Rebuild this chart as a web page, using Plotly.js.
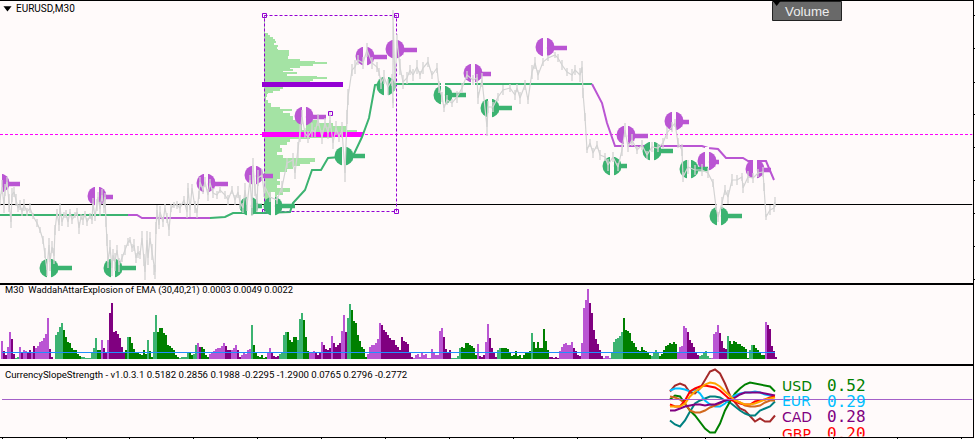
<!DOCTYPE html>
<html>
<head>
<meta charset="utf-8">
<script src="https://cdn.plot.ly/plotly-3.0.1.min.js"></script>
<style>html,body{margin:0;padding:0;background:#FFFAFA;overflow:hidden}</style>
</head>
<body>
<div id="chart" style="width:975px;height:439px"></div>
<script>
// ---------- main window (horizontal unit: chart column, vertical unit: price level)
const priceX = [0,2,4,5,7,9,11,12,14,16,18,20,22,24,27,30,33,37,40,43,45,47,49,50,52,54,55,57,59,60,62,64,66,68,70,72,75,77,79,81,83,85,87,90,92,93,95,97,98,100,102,104,105,106,107,108,110,112,113,115,117,119,122,125,128,130,132,134,136,138,140,142,144,145,147,148,150,152,154,155,156,157,159,160,163,165,167,169,171,174,177,180,184,187,188,190,192,195,197,199,200,203,205,208,210,213,217,220,225,228,232,235,238,240,243,245,247,250,252,253,255,257,258,262,264,265,270,277,282,287,293,295,298,300,302,305,308,312,315,318,322,325,328,330,333,336,339,342,345,347,348,352,355,358,363,367,372,377,379,381,384,388,392,393,393,395,397,400,403,407,410,413,417,420,423,428,432,437,439,442,444,447,452,457,462,467,473,477,478,482,487,488,493,498,503,510,515,517,520,525,528,532,535,538,543,548,555,558,562,567,572,575,580,582,583,585,587,590,593,597,600,605,608,613,618,622,625,628,632,637,642,647,652,658,663,667,672,675,678,682,683,688,695,702,708,713,716,718,722,725,728,732,737,742,743,748,753,758,763,764,766,770,774,775];
const priceY = [200,187,205,190,182,203,222,195,192,200,208,205,212,205,212,208,216,223,230,240,253,270,245,262,247,256,230,213,225,208,222,215,214,222,212,220,215,212,228,217,220,214,222,216,220,203,217,205,197,209,195,208,197,222,240,262,247,268,255,262,250,265,258,250,242,240,248,245,258,252,255,238,260,272,240,258,238,252,270,272,228,210,225,212,222,208,218,230,208,205,205,208,200,212,188,210,188,207,213,195,182,190,182,195,183,193,195,190,195,200,190,200,192,202,208,190,205,180,208,165,190,203,178,175,192,187,197,200,187,163,160,173,150,133,117,133,137,130,132,120,137,123,133,120,143,128,137,130,173,117,97,70,67,60,63,50,63,67,72,83,77,87,80,103,15,83,40,67,82,78,70,75,67,75,68,62,75,68,87,97,108,100,103,97,88,75,80,78,98,80,127,107,107,97,90,88,95,88,98,85,100,72,63,75,62,58,55,58,65,72,75,70,75,67,93,117,150,143,153,145,155,157,165,157,167,150,130,147,140,150,145,155,147,148,143,133,127,123,143,150,177,167,170,170,173,183,207,217,203,190,197,180,180,177,188,177,178,173,172,187,217,210,208,202];
// half height of each bar around the closes above
const priceRange = [6,7,8,6,5,9,6,7,5,6,4,5,4,6,4,5,3,4,3,4,5,6,7,9,6,8,5,4,6,5,4,3,4,5,3,4,3,4,6,3,5,3,4,3,4,5,4,6,5,7,6,5,4,5,6,6,7,8,6,9,5,7,4,5,4,3,4,6,5,6,4,7,6,8,9,7,6,8,5,7,6,5,4,6,5,4,5,6,4,3,4,5,4,6,5,7,4,6,5,4,5,4,5,6,4,5,4,3,4,5,4,5,6,7,5,7,6,5,8,7,6,9,8,6,5,6,5,4,6,5,7,6,8,9,7,5,6,7,5,6,7,5,6,8,6,7,5,8,9,7,8,6,7,5,6,7,6,5,4,6,7,8,6,5,5,7,6,8,7,6,5,6,7,4,6,5,4,5,6,5,4,5,4,6,5,4,5,4,6,7,9,6,5,4,5,4,5,4,6,5,4,7,6,5,4,3,3,4,5,4,6,5,7,6,5,4,3,4,5,4,5,4,6,5,4,6,7,5,6,4,5,4,5,4,5,6,5,4,5,6,5,7,5,6,5,4,3,5,6,5,7,6,5,4,5,6,5,4,5,4,3,5,4,5,5,6,6,6,6,6,6];

const trendGreenX = [0,128,null,210,225,233,262,290,293,305,312,321,328,353,362,369,375,380,592];
const trendGreenY = [215,215,null,218,217,213,213,212,203,190,170,170,158,156,137,118,85,84,84];
const trendPurpleX = [128,137,142,210,null,592,600,602,607,615,702,708,718,726,743,748,766,774];
const trendPurpleY = [215,215,218,218,null,84,100,103,123,146,146,148,149,158,158,161,161,180];

const profileLevel = [16,18,20,22,24,26,28,30,32,34,36,38,40,42,44,46,48,50,52,55,57,60,62,63,65,67,68,70,72,73,75,77,78,80,82,84,86,88,90,92,93,95,98,102,105,108,110,112,115,118,122,125,128,132,135,137,138,140,143,147,150,153,157,160,163,165,167,170,173,177,180,183,187,190,193,197,200,203,206];
const profileSize = [1,1,1,1,1,1,1,1,1,4,6,9,11,12,10,14,13,14,25,25,24,36,51,63,49,36,26,29,19,33,23,53,63,49,46,45,45,19,16,9,4,3,2,4,7,16,28,19,26,29,53,69,83,93,93,69,46,26,23,16,18,13,19,51,46,36,29,23,16,16,13,16,13,26,19,13,6,8,3];

const sellX = [0,97,206,254,304,365,395,473,545,626,674,707,755];
const sellY = [184,197,184,176,117,57,50,74,48,136,122,162,170];
const sellEnd = [20,113,228,273,326,387,417,491,567,648,689,719,771];
const buyX = [49,113,249,273,344,386,443,490,612,652,689,719];
const buyY = [268,268,206,206,156,86,95,108,166,151,169,216];
const buyEnd = [72,136,262,295,365,396,466,512,627,673,708,742];

const boxX = [264.5,396.5,396.5,264.5,264.5];
const boxY = [15.5,15.5,211.5,211.5,15.5];
const cornerX = [264.5,396.5,264.5,396.5,330.5];
const cornerY = [15.5,15.5,211.5,211.5,113.5];
const pocX = [262,363];   const pocLevel = [134.5,134.5];
const vahX = [262,343];   const vahLevel = [84.5,84.5];
const dashLineX = [0,972.5];
const bidX = [0,972.5];
const bidLevel = [204.5,204.5];
const bidMarkX = [974,974];
const bidMarkY = [200,209];
const priceTicks = [15,48,82,114,147,180,213,246,279];

// ---------- WaddahAttarExplosion window: one height per bar, bars two columns apart
const waeHeights = [18,8,4,12,27,20,5,1,2,12,7,9,8,7,9,6,13,11,13,17,18,21,25,41,10,2,0,24,27,32,36,29,22,17,16,11,9,9,5,3,2,2,1,1,1,7,11,21,9,9,19,11,7,19,46,56,27,28,25,21,12,6,9,22,22,16,10,7,7,5,4,9,5,19,8,2,27,44,27,31,31,26,24,14,13,11,9,4,2,1,2,2,2,7,7,4,5,14,16,12,12,10,4,2,5,6,8,10,11,11,13,16,13,9,9,9,11,14,9,2,4,6,5,9,10,34,14,7,3,2,4,1,2,6,11,7,3,2,3,5,7,24,27,27,19,17,22,22,19,40,46,39,22,8,7,7,8,6,4,6,17,14,10,9,11,23,16,12,14,16,28,44,27,41,55,49,38,36,24,18,12,10,2,5,12,14,14,16,20,36,34,29,27,24,21,19,19,14,12,9,
22,18,17,15,7,2,1,4,5,2,6,4,5,1,1,10,7,4,4,28,31,22,10,7,9,1,1,1,3,11,12,11,16,16,14,13,11,4,15,3,2,4,17,35,21,11,6,2,9,11,11,11,11,10,7,3,4,8,3,4,1,4,6,6,8,26,17,11,17,11,11,30,18,9,2,2,1,2,1,8,12,15,16,14,14,17,11,8,4,3,16,51,59,70,56,46,29,20,15,9,3,1,3,3,1,6,17,20,21,23,27,41,29,28,26,18,16,12,9,8,12,9,8,7,4,3,7,9,7,3,5,9,13,14,16,15,17,15,7,12,13,33,31,27,19,16,12,7,4,3,4,7,8,3,1,1,25,27,34,26,18,11,10,23,18,15,18,17,15,15,13,12,10,1,9,14,14,11,9,7,4,4,37,34,30,13,8,2];
// colour runs: last column of the run and its kind (o rising sell, p falling sell, m rising buy, g falling buy)
const waeRunEnd = [2,6,10,14,18,20,22,26,30,32, 34,36,48,52,62,80,96,100,102,106, 108,124,126,128,146,148,152,156,178,188, 192,196,198,200,208,224,230,236,240,250, 252,266,270,278,286,296,302,308,314,320, 322,330,332,340,344,346,350,366,380,412, 442,450,460,476,478,484,488,496,500,530, 532,548,558,572,580,588,602,610,622,650, 658,676,686,698,710,718,726,728,748,752, 764,766,777];
const waeRunKind = ['o','p','o','p','m','o','p','o','p','o', 'p','o','o','p','m','g','m','g','o','p', 'o','p','g','m','g','m','g','m','g','m', 'g','m','o','p','g','o','p','o','p','o', 'm','g','o','p','m','g','m','g','o','p', 'o','p','o','p','o','p','m','g','o','p', 'o','p','m','g','o','p','o','p','m','g', 'm','g','p','o','p','o','p','o','m','g', 'm','g','o','p','m','o','p','m','g','m', 'g','o','p'];
const waeSignal = [6.5,6.5];
const waeSignalX = [2,775];

// ---------- CurrencySlopeStrength window
const slopeX = [670,675,680,685,690,695,700,705,710,715,720,725,730,735,740,745,750,755,760,765,770,775];
const slopeUSD = [0,4,3,-4,-11,-16,-22,-29,-33,-33,-24,-11,-2,6,11,15,17,16,15,14,13,8];
const slopeEUR = [9,11,11,10,8,10,6,-1,-5,-7,-7,-4,1,4,6,7,7,8,7,5,4,3];
const slopeCAD = [-11,-11,-9,-7,-6,-5,-5,-6,-5,-5,-3,-1,0,2,5,7,7,7,7,6,5,4];
const slopeGBP = [-5,-7,-7,-1,8,11,13,14,13,12,9,4,0,-2,-4,-5,-5,-2,-1,0,2,3];
const slopeBrown = [8,14,16,14,7,6,11,19,28,30,26,16,4,-3,-9,-11,-16,-22,-19,-22,-22,-16];
const slopeTeal = [-21,-25,-27,-21,-12,-4,-1,1,3,3,2,-1,-3,-7,-11,-14,-16,-16,-11,-9,-7,-2];
const slopeOrange = [-7,-7,-7,-4,3,8,11,15,17,16,13,8,3,-1,-3,-5,-5,-4,-2,0,1,2];
const slopeChocolate = [3,2,0,-4,-11,-13,-13,-11,-8,-6,-4,-1,1,-1,-3,-6,-7,-7,-6,-3,-1,-1];
const slopeZeroX = [2,972.5];
const slopeZero = [0,0];
const currencyNames = ['USD','EUR','CAD','GBP'];
const currencyValues = ['0.52','0.29','0.28','0.20'];
const currencyLevels = [12.5,-3,-18.5,-35.5];
const timeTicks = [2,66,129,193,257,321,385,449,513,577,641,705,769,833,897,961];

const chartTitle = 'EURUSD,M30';
const waeLabel = 'M30  WaddahAttarExplosion of EMA (30,40,21) 0.0003 0.0049 0.0022';
const slopeLabel = 'CurrencySlopeStrength - v1.0.3.1 0.5182 0.2856 0.1988 -0.2295 -1.2900 0.0765 0.2796 -0.2772';

// ---------- colours
const SNOW = '#FFFAFA', SEA = '#3CB371', ORCHID = '#BA55D3', GREEN = '#008000', PURPLE = '#800080';
const VIOLET = '#9400D3', MAGENTA = '#FF00FF', GRAY = '#D3D3D3';
const kindColour = {o: ORCHID, p: PURPLE, m: SEA, g: GREEN};
const H = 439, W = 975, RIGHT = 972.5;

const segs = (xs, ys, ends) => {
  const x = [], y = [];
  xs.forEach((v, i) => { x.push(v + 2, ends[i], null); y.push(ys[i], ys[i], null); });
  return {x, y};
};
const line = (x, y, color, width, extra) => Object.assign(
  {type:'scatter', mode:'lines', x, y, line:{color, width}, hoverinfo:'skip', showlegend:false}, extra || {});
const dashed = (x, y, color, width) => line(x, y, color, width, {line:{color, width, dash:'3px,2px'}});

const sellBars = segs(sellX, sellY, sellEnd), buyBars = segs(buyX, buyY, buyEnd);
const dots = (x, y, symbol, size, color, lineW, lineC) => ({type:'scatter', mode:'markers', x, y, hoverinfo:'skip', showlegend:false,
  marker:{symbol, size, color, line:{width:lineW || 0, color:lineC || color}}});

const waeX = waeHeights.map((_, i) => 2 + 2 * i);
const waeColours = waeX.map(x => kindColour[waeRunKind[waeRunEnd.findIndex(e => x <= e)]] || PURPLE);
const profileWidth = profileLevel.map((v, i) => i + 1 < profileLevel.length ? profileLevel[i + 1] - v + 0.8 : 2);
const sellDiscY = sellY.map(y => y - 1);

const traces = [
  {type:'bar', orientation:'h', y:profileLevel, x:profileSize, base:263.5, width:profileWidth, hoverinfo:'skip', showlegend:false,
   marker:{color:'#A4E3A4', line:{width:0}}},
  dashed(dashLineX, pocLevel, MAGENTA, 1),
  line(bidX, bidLevel, '#000', 1),
  dashed(boxX, boxY, VIOLET, 1),
  dots(cornerX, cornerY, 'square-open', 4, VIOLET, 1),
  line(vahX, vahLevel, VIOLET, 5),
  line(pocX, pocLevel, MAGENTA, 5),
  line(trendGreenX, trendGreenY, SEA, 2),
  line(trendPurpleX, trendPurpleY, ORCHID, 2),
  dots(sellX, sellDiscY, 'circle', 19, ORCHID),
  dots(buyX, buyY, 'circle', 19, SEA),
  dots(sellX, sellDiscY, 'line-ns', 20, SNOW, 4),
  dots(buyX, buyY, 'line-ns', 20, SNOW, 4),
  dots(sellX.map(x => x + 6), sellY, 'triangle-left', 9, ORCHID),
  dots(buyX.map(x => x + 6), buyY, 'triangle-left', 9, SEA),
  line(sellBars.x, sellBars.y, ORCHID, 4.5),
  line(buyBars.x, buyBars.y, SEA, 4.5),
  {type:'scatter', mode:'lines', x:priceX, y:priceY, hoverinfo:'skip', showlegend:false, line:{color:GRAY, width:1.2},
   error_y:{type:'data', array:priceRange, symmetric:true, color:GRAY, thickness:1.3, width:0}},
  dots([7.5,776.7], [8,2.5], 'triangle-down', 7, '#000'),
  line(bidMarkX, bidMarkY, '#000', 1.5, {cliponaxis:false}),

  {type:'bar', x:waeX, y:waeHeights, xaxis:'x2', yaxis:'y2', width:1.7, hoverinfo:'skip', showlegend:false,
   marker:{color:waeColours, line:{width:0}}},
  line(waeSignalX, waeSignal, '#1E90FF', 1, {xaxis:'x2', yaxis:'y2'}),

  line(slopeX, slopeBrown, '#A52A2A', 2, {xaxis:'x3', yaxis:'y3'}),
  line(slopeX, slopeTeal, '#008080', 2, {xaxis:'x3', yaxis:'y3'}),
  line(slopeX, slopeUSD, GREEN, 2, {xaxis:'x3', yaxis:'y3'}),
  line(slopeX, slopeEUR, '#00BFFF', 2, {xaxis:'x3', yaxis:'y3'}),
  line(slopeX, slopeChocolate, '#D2691E', 2, {xaxis:'x3', yaxis:'y3'}),
  line(slopeX, slopeCAD, PURPLE, 2, {xaxis:'x3', yaxis:'y3'}),
  line(slopeX, slopeGBP, '#FF0000', 2, {xaxis:'x3', yaxis:'y3'}),
  line(slopeX, slopeOrange, '#FFA500', 2, {xaxis:'x3', yaxis:'y3'}),
  line(slopeZeroX, slopeZero, '#A45FC8', 1, {xaxis:'x3', yaxis:'y3'}),
  {type:'scatter', mode:'text', x:currencyNames.map(() => 782), y:currencyLevels, text:currencyNames,
   textposition:'middle right', xaxis:'x3', yaxis:'y3', hoverinfo:'skip', showlegend:false, cliponaxis:true,
   textfont:{family:'DejaVu Sans', size:14, color:[GREEN,'#00BFFF',PURPLE,'#FF0000']}},
  {type:'scatter', mode:'text', x:currencyNames.map(() => 827), y:currencyLevels, text:currencyValues,
   textposition:'middle right', xaxis:'x3', yaxis:'y3', hoverinfo:'skip', showlegend:false, cliponaxis:true,
   textfont:{family:'DejaVu Sans Mono', size:16, color:[GREEN,'#00BFFF',PURPLE,'#FF0000']}}
];

const frame = {showline:true, mirror:true, linecolor:'#000', linewidth:1, showgrid:false, zeroline:false, showticklabels:false, fixedrange:true};
const xAxis = (anchor, extra) => Object.assign({}, frame, {domain:[0, RIGHT/W], range:[0, RIGHT], anchor, ticks:''}, extra || {});
const dom = (top, bottom) => [1 - bottom/H, 1 - top/H];
const txtFont = {family:'Roboto, Liberation Sans, sans-serif', size:9.6, color:'#000'};
const label = (text, x, y, yref, xref, size) => ({text, x, y, xref, yref, xanchor:'left', yanchor:'middle', showarrow:false, align:'left',
  font:Object.assign({}, txtFont, size ? {size} : {})});

const layout = {
  width:W, height:H, margin:{l:0,r:0,t:0,b:0}, paper_bgcolor:SNOW, plot_bgcolor:SNOW,
  barmode:'overlay', showlegend:false, bargap:0,
  xaxis: xAxis('y'),
  yaxis: Object.assign({}, frame, {domain:dom(0.5,282.5), range:[282.5,0.5], anchor:'x', side:'right', ticks:'outside', ticklen:3, tickcolor:'#000', tickmode:'array', tickvals:priceTicks}),
  xaxis2: xAxis('y2'),
  yaxis2: Object.assign({}, frame, {domain:dom(284.5,363.5), range:[-4.5,74.5], anchor:'x2', side:'right', ticks:''}),
  xaxis3: xAxis('y3', {ticks:'outside', ticklen:3, tickcolor:'#000', tickmode:'array', tickvals:timeTicks}),
  yaxis3: Object.assign({}, frame, {domain:dom(365.5,436.5), range:[-37,34], anchor:'x3', side:'right', ticks:''}),
  shapes:[{type:'rect', xref:'x', yref:'y', x0:772.5, x1:841.5, y0:1.5, y1:20.5, layer:'below', fillcolor:'#696969', line:{color:'#222', width:1}}],
  annotations:[
    label(chartTitle, 13.5, 8, 'y', 'x', 10),
    label(waeLabel, 3, 69.5, 'y2', 'x2', 9.35),
    label(slopeLabel, 3, 25, 'y3', 'x3'),
    {text:'Volume', x:807, y:11, xref:'x', yref:'y', showarrow:false,
     font:{family:'Liberation Sans, Arial, sans-serif', size:13.3, color:'#EDEDED'}}
  ]
};
Plotly.newPlot('chart', traces, layout, {displayModeBar:false, staticPlot:true});
</script>
</body>
</html>
